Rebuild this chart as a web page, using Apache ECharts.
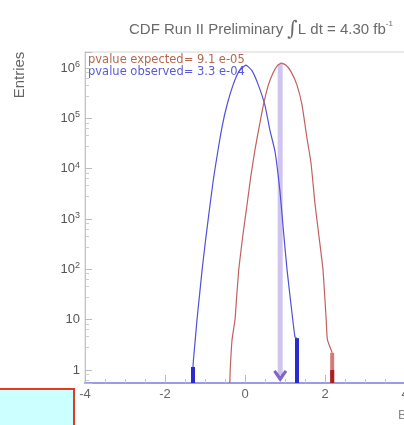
<!DOCTYPE html>
<html>
<head>
<meta charset="utf-8">
<script src="https://cdn.jsdelivr.net/npm/echarts@6/dist/echarts.min.js"></script>
<style>html,body{margin:0;padding:0;background:#fff;}#c{width:404px;height:425px;}</style>
</head>
<body>
<div id="c"></div>
<script>
// ---- data ----
var blueX = [-1.30, -1.30, -1.25, -1.20, -1.13, -1.06, -0.97, -0.875, -0.78, -0.68, -0.57, -0.45, -0.30, -0.15, 0.02, 0.17, 0.325, 0.50, 0.62, 0.75, 0.875, 0.96, 1.05, 1.15, 1.25, 1.30];
var blueY = [null, 1.15, 3.5, 10, 35, 120, 480, 1900, 7000, 22000, 70000, 185000, 460000, 860000, 1150000, 900000, 480000, 180000, 60000, 22000, 3500, 600, 100, 20, 4.5, 4.3];
var redX = [-0.38, -0.37, -0.325, -0.25, -0.20, -0.15, -0.05, 0.05, 0.15, 0.25, 0.35, 0.45, 0.575, 0.70, 0.80, 0.91, 1.02, 1.15, 1.30, 1.425, 1.55, 1.65, 1.75, 1.85, 1.95, 2.03, 2.06, 2.18];
var redY = [null, 1, 3.9, 10, 35, 110, 500, 1900, 7500, 24000, 65000, 170000, 440000, 800000, 1100000, 1260000, 1150000, 850000, 460000, 185000, 40000, 13000, 2000, 450, 97, 10, 4, 2.2];
var blueTailX = [-1.30, 1.30];
var blueTailY = [1.15, 4.3];
var redTailX = [2.18];
var redTailY = [2.2];
var redTailDarkY = [1.0];
var arrowX = 0.88;
var arrowTop = 1200000;
var arrowBottom = 0.8;
var xTicks = [-4, -2, 0, 2, 4];
var pExpected = 'pvalue expected= 9.1 e-05';
var pObserved = 'pvalue observed= 3.3 e-04';

var Y_MIN = 0.552, Y_MAX = 2.09e6;

function pairs(xs, ys) {
  return xs.map(function (x, i) { return [x, ys[i] == null ? Y_MIN : ys[i]]; });
}
function tailSeries(xs, ys, color) {
  return xs.map(function (x, i) {
    return {
      type: 'line', symbol: 'none', silent: true, z: 4,
      lineStyle: { color: color, width: 4 },
      data: [[x, Y_MIN], [x, ys[i]]]
    };
  });
}

var chart = echarts.init(document.getElementById('c'), null, { renderer: 'canvas' });
var series = [
  { name: 'arrowBand', type: 'line', symbol: 'none', silent: true, z: 2,
    lineStyle: { color: 'rgba(170,150,225,0.55)', width: 5 },
    data: [[arrowX, arrowTop], [arrowX, arrowBottom]] },
  { name: 'observed', type: 'line', symbol: 'none', smooth: 0.15, z: 3,
    lineStyle: { color: '#5050d8', width: 1.2 }, data: pairs(blueX, blueY) },
  { name: 'expected', type: 'line', symbol: 'none', smooth: 0.15, z: 3,
    lineStyle: { color: '#c06060', width: 1.2 }, data: pairs(redX, redY) },
  { name: 'arrowHead', type: 'scatter', silent: true, z: 5,
    symbol: 'path://M0,0 L1.8,-1.5 L5,3.4 L8.2,-1.5 L10,0 L5,8 Z',
    symbolSize: [14, 12], symbolOffset: [0, 1],
    itemStyle: { color: '#6a4cc0', opacity: 0.85 },
    data: [[arrowX, arrowBottom]] }
].concat(
  tailSeries(blueTailX, blueTailY, '#2a2ad0'),
  tailSeries(redTailX, redTailY, '#d27a7a'),
  tailSeries(redTailX, redTailDarkY, '#a82020')
);

chart.setOption({
  animation: false,
  backgroundColor: '#fff',
  title: {
    text: 'CDF Run II Preliminary {int|∫}L dt = 4.30 fb{sup|-1}',
    left: 124, top: 15,
    textStyle: { fontFamily: 'Liberation Sans', fontSize: 15, fontWeight: 'normal', color: '#6a6a6a',
      rich: { int: { fontSize: 20, color: '#6a6a6a', fontFamily: 'DejaVu Serif' }, sup: { fontSize: 8, color: '#6a6a6a', verticalAlign: 'top', padding: [0, 0, 8, 0] } } }
  },
  grid: { left: 85, right: -1, top: 52, bottom: 42, show: true, borderColor: '#d4d4d4', borderWidth: 1,
    containLabel: false, outerBoundsMode: 'none' },
  xAxis: {
    type: 'value', min: -4, max: 4, interval: 2,
    name: 'BDT output', nameLocation: 'end', nameGap: -7,
    nameTextStyle: { fontFamily: 'Liberation Sans', fontSize: 13, color: '#888', align: 'left', verticalAlign: 'top', padding: [26, 0, 0, 0] },
    axisLine: { show: true, onZero: false, lineStyle: { color: '#9a9ae6', width: 2 } },
    axisTick: { show: true, inside: true, length: 8, lineStyle: { color: '#bbb' } },
    minorTick: { show: true, splitNumber: 4, length: 4, lineStyle: { color: '#c4c4c4' } },
    axisLabel: { margin: 5, fontFamily: 'Liberation Sans', fontSize: 13, color: '#666',
      formatter: function (v) { return xTicks.indexOf(v) >= 0 ? String(v) : ''; } },
    splitLine: { show: false }
  },
  yAxis: {
    type: 'log', logBase: 10, min: Y_MIN, max: Y_MAX, splitNumber: 7,
    axisLine: { show: true, onZero: false, lineStyle: { color: '#c4c4c4' } },
    axisTick: { show: true, inside: true, length: 7, lineStyle: { color: '#bbb' } },
    minorTick: { show: true, splitNumber: 5, length: 4, lineStyle: { color: '#ccc' } },
    axisLabel: {
      showMinLabel: false, showMaxLabel: false, margin: 5,
      fontFamily: 'Liberation Sans', fontSize: 13, color: '#555',
      formatter: function (v) {
        var e = Math.round(Math.log10(v));
        if (Math.abs(Math.log10(v) - e) > 1e-6) return '';
        if (e === 0) return '1';
        if (e === 1) return '10';
        return '10{s|' + e + '}';
      },
      rich: { s: { fontSize: 9, color: '#555', verticalAlign: 'top', padding: [0, 0, 7, 0] } }
    },
    splitLine: { show: false }
  },
  graphic: [
    { type: 'text', left: 88, top: 54, silent: true,
      style: { text: pExpected, fontFamily: 'DejaVu Sans', fontSize: 11.5, fill: '#b8664e' } },
    { type: 'text', left: 88, top: 66, silent: true,
      style: { text: pObserved, fontFamily: 'DejaVu Sans', fontSize: 11.5, fill: '#5a5ad8' } },
    { type: 'text', x: 20, y: 75, rotation: Math.PI / 2, silent: true,
      style: { text: 'Entries', fontFamily: 'Liberation Sans', fontSize: 15, fill: '#666', align: 'center', verticalAlign: 'middle' } },
    { type: 'rect', shape: { x: -3, y: 389, width: 77, height: 40 }, silent: true,
      style: { fill: '#ccffff', stroke: '#e23a22', lineWidth: 2 } }
  ],
  series: series
});
</script>
</body>
</html>
